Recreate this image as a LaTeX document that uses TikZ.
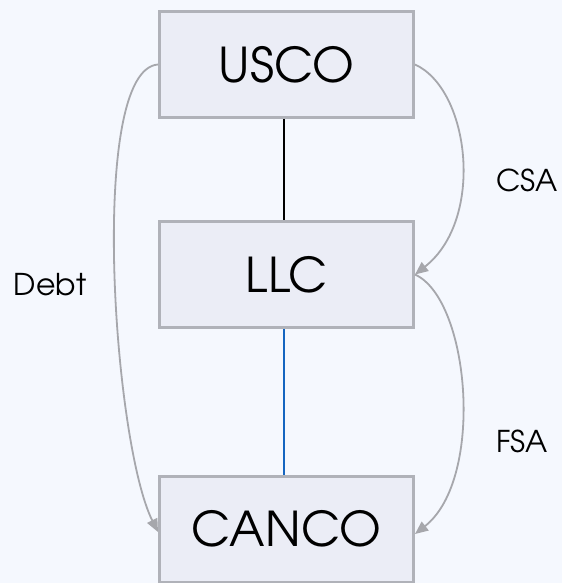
\documentclass[tikz,border=0pt]{standalone}
\usepackage{fontspec}
\setmainfont{TeX Gyre Adventor}
\usetikzlibrary{arrows.meta}
\definecolor{bg}{HTML}{F5F8FE}
\definecolor{boxfill}{HTML}{EBEDF6}
\definecolor{boxline}{HTML}{B0B2B9}
\definecolor{arrgray}{HTML}{A6A7AC}
\definecolor{linkblue}{HTML}{1565C0}
\tikzset{
  entity/.style={draw=boxline, fill=boxfill, line width=3pt, minimum width=254pt, minimum height=106pt, inner sep=0pt, font=\fontsize{48}{48}\selectfont},
  flow/.style={draw=arrgray, line width=1.8pt, -{Triangle[length=13pt,width=11pt]}},
  lbl/.style={font=\fontsize{30}{30}\selectfont, inner sep=0pt},
}
\begin{document}
\begin{tikzpicture}[x=1pt,y=-1pt]
\fill[bg] (0,0) rectangle (562,583);
\useasboundingbox (0,0) rectangle (562,583);
\node[entity] (USCO) at (286.5,64.5) {USCO};
\node[entity] (LLC) at (286.5,274.5) {LLC};
\node[entity] (CANCO) at (286.5,529) {CANCO};
\draw[black, line width=2pt] ([xshift=-3pt]USCO.south) -- ([xshift=-3pt]LLC.north);
\draw[linkblue, line width=2pt] ([xshift=-3pt]LLC.south) -- ([xshift=-3pt]CANCO.north);
\draw[flow] (USCO.east) .. controls +(55,25) and +(70,-55) .. (LLC.east);
\draw[flow] (LLC.east) .. controls +(55,25) and +(70,-55) .. ([yshift=-5pt]CANCO.east);
\draw[flow] (USCO.west) .. controls +(-70,5) and +(-45,-90) .. ([yshift=-3pt]CANCO.west);
\node[lbl] (csa) at (527,180) {CSA};
\node[lbl] (fsa) at (522,441) {FSA};
\node[lbl] (debt) at (50,285) {Debt};
\end{tikzpicture}
\end{document}
